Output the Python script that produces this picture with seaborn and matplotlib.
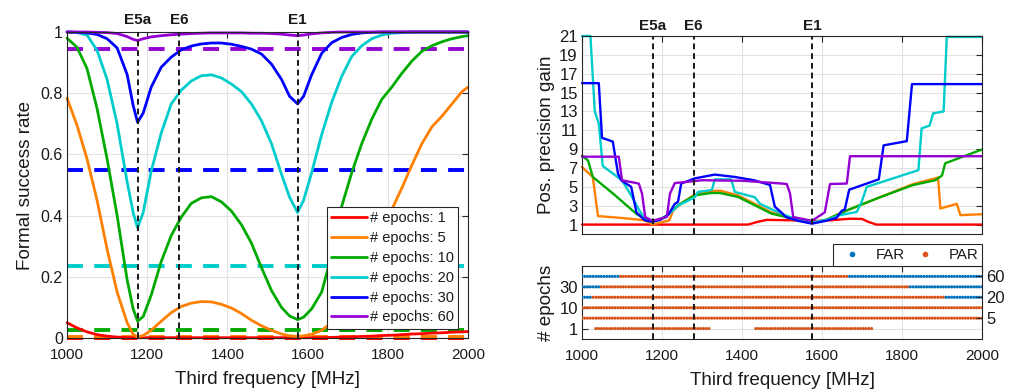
import numpy as np
import pandas as pd
import matplotlib
matplotlib.use("Agg")
import matplotlib.pyplot as plt
import seaborn as sns
from matplotlib.transforms import blended_transform_factory
from matplotlib.lines import Line2D

sns.set_theme(style="white")
plt.rcParams['font.family'] = ['Liberation Sans', 'DejaVu Sans']

# ---------------- data ----------------
epochs = [1, 5, 10, 20, 30, 60]
colors = ['#FF0000', '#FF8000', '#00AA00', '#00CCCC', '#0000FF', '#9400D3']

# left panel: formal success rate
freq = [1000, 1025, 1050, 1075, 1100, 1125, 1150, 1165, 1176, 1190, 1210, 1235, 1260, 1285,
        1310, 1335, 1360, 1385, 1410, 1435, 1460, 1485, 1510, 1535, 1555, 1575, 1590, 1610,
        1635, 1660, 1685, 1710, 1735, 1760, 1785, 1810, 1835, 1860, 1885, 1910, 1935, 1960,
        1985, 2000]
sr_1 = [0.050, 0.033, 0.020, 0.011, 0.006, 0.003, 0.0015, 0.001, 0.001, 0.001, 0.001,
        0.001, 0.001, 0.001, 0.001, 0.001, 0.001, 0.001, 0.001, 0.001, 0.001, 0.001, 0.001,
        0.001, 0.001, 0.001, 0.001, 0.001, 0.001, 0.002, 0.003, 0.004, 0.005, 0.006, 0.008,
        0.009, 0.011, 0.013, 0.014, 0.016, 0.017, 0.019, 0.020, 0.021]
sr_5 = [0.784, 0.695, 0.585, 0.45, 0.29, 0.15, 0.05, 0.012, 0.003, 0.008, 0.025, 0.055,
        0.083, 0.103, 0.114, 0.119, 0.118, 0.11, 0.098, 0.08, 0.058, 0.04, 0.025, 0.013,
        0.007, 0.005, 0.007, 0.012, 0.025, 0.05, 0.085, 0.13, 0.19, 0.26, 0.34, 0.42, 0.49,
        0.565, 0.635, 0.69, 0.725, 0.765, 0.805, 0.82]
sr_10 = [0.98, 0.95, 0.88, 0.75, 0.585, 0.40, 0.19, 0.095, 0.055, 0.07, 0.14, 0.25, 0.335,
         0.395, 0.44, 0.458, 0.462, 0.445, 0.415, 0.37, 0.31, 0.23, 0.155, 0.10, 0.072,
         0.06, 0.068, 0.095, 0.15, 0.27, 0.43, 0.54, 0.635, 0.715, 0.78, 0.82, 0.865,
         0.905, 0.937, 0.955, 0.968, 0.978, 0.985, 0.988]
sr_20 = [1.0, 0.998, 0.99, 0.94, 0.845, 0.70, 0.51, 0.41, 0.36, 0.41, 0.545, 0.67, 0.765,
         0.81, 0.84, 0.857, 0.86, 0.85, 0.83, 0.805, 0.765, 0.71, 0.635, 0.535, 0.46, 0.41,
         0.45, 0.54, 0.664, 0.77, 0.855, 0.92, 0.955, 0.978, 0.99, 0.996, 0.998, 1.0, 1.0,
         1.0, 1.0, 1.0, 1.0, 1.0]
sr_30 = [1.0, 0.999, 0.997, 0.992, 0.978, 0.948, 0.861, 0.76, 0.705, 0.735, 0.82, 0.885,
         0.918, 0.942, 0.954, 0.961, 0.964, 0.964, 0.96, 0.953, 0.944, 0.928, 0.895, 0.845,
         0.79, 0.765, 0.79, 0.86, 0.93, 0.965, 0.982, 0.992, 0.997, 0.999, 1.0, 1.0, 1.0,
         1.0, 1.0, 1.0, 1.0, 1.0, 1.0, 1.0]
sr_60 = [1.0, 1.0, 1.0, 0.999, 0.998, 0.995, 0.985, 0.976, 0.972, 0.978, 0.984, 0.988,
         0.991, 0.993, 0.995, 0.996, 0.997, 0.997, 0.997, 0.997, 0.996, 0.996, 0.995, 0.993,
         0.99, 0.988, 0.99, 0.994, 0.997, 0.999, 1.0, 1.0, 1.0, 1.0, 1.0, 1.0, 1.0, 1.0,
         1.0, 1.0, 1.0, 1.0, 1.0, 1.0]
sr_thresholds = [0.001, 0.002, 0.027, 0.234, 0.548, 0.945]

# right top panel: position precision gain
pg_1_f = [1000, 1415, 1440, 1462, 1530, 1575, 1620, 1670, 1700, 1715, 1736, 2000]
pg_1_v = [1.0, 1.0, 1.3, 1.5, 1.45, 1.35, 1.45, 1.62, 1.6, 1.3, 1.0, 1.0]
pg_5_f = [1000, 1027, 1040, 1100, 1157, 1176, 1218, 1228, 1250, 1282, 1320, 1345, 1390,
          1432, 1473, 1510, 1545, 1575, 1610, 1662, 1745, 1828, 1883, 1890, 1896, 1937,
          1946, 2000]
pg_5_v = [7.1, 6.05, 1.9, 1.7, 1.45, 1.0, 1.45, 2.5, 3.3, 4.2, 4.55, 4.6, 4.1, 3.2, 2.3,
          1.85, 1.4, 1.2, 1.5, 2.5, 3.9, 5.3, 5.9, 6.0, 2.7, 3.2, 2.0, 2.1]
pg_10_f = [1000, 1015, 1027, 1080, 1137, 1157, 1176, 1207, 1240, 1282, 1323, 1345, 1390,
           1432, 1473, 1510, 1545, 1575, 1610, 1662, 1745, 1828, 1883, 1900, 1908, 1996, 2000]
pg_10_v = [8.3, 7.8, 6.05, 4.2, 2.1, 1.64, 1.3, 1.8, 3.05, 4.1, 4.35, 4.35, 3.93, 3.05,
           2.17, 1.8, 1.4, 1.2, 1.5, 2.5, 3.9, 5.2, 5.7, 6.2, 7.5, 8.9, 8.95]
pg_20_f = [1000, 1021, 1032, 1042, 1052, 1100, 1120, 1142, 1157, 1176, 1195, 1220, 1240,
           1282, 1290, 1315, 1325, 1332, 1373, 1382, 1432, 1445, 1470, 1507, 1540, 1575,
           1611, 1645, 1687, 1699, 1712, 1841, 1849, 1869, 1878, 1904, 1912, 2000]
pg_20_v = [21, 21, 13, 11.7, 7.2, 5.7, 4.3, 2.6, 1.6, 1.3, 1.5, 2.2, 3.0, 3.9, 4.46, 4.6,
           4.7, 5.8, 5.8, 4.46, 3.9, 3.2, 2.7, 2.0, 1.5, 1.2, 1.5, 2.0, 2.34, 3.4, 5.0, 6.77,
           11.2, 11.5, 12.8, 13.0, 20.9, 20.9]
pg_30_f = [1000, 1042, 1050, 1077, 1090, 1098, 1123, 1136, 1157, 1176, 1195, 1215, 1232,
           1240, 1248, 1282, 1332, 1382, 1430, 1470, 1482, 1498, 1510, 1540, 1575, 1610,
           1636, 1649, 1657, 1668, 1675, 1742, 1754, 1812, 1825, 2000]
pg_30_v = [16.0, 16.0, 10.2, 9.8, 6.4, 5.7, 5.0, 2.3, 1.45, 1.3, 1.5, 2.0, 3.2, 3.4, 5.35,
           5.9, 6.3, 6.05, 5.7, 5.2, 2.9, 2.3, 1.8, 1.4, 1.1, 1.4, 1.7, 2.45, 2.6, 4.7, 4.8,
           5.8, 9.4, 9.85, 15.9, 15.9]
pg_60_f = [1000, 1092, 1100, 1142, 1150, 1158, 1176, 1212, 1220, 1232, 1300, 1400, 1500,
           1512, 1520, 1528, 1575, 1607, 1620, 1662, 1670, 2000]
pg_60_v = [8.2, 8.2, 5.7, 5.35, 4.3, 1.8, 1.4, 1.8, 4.3, 5.4, 5.7, 5.65, 5.35, 5.3, 4.3,
           1.8, 1.4, 2.3, 5.3, 5.35, 8.25, 8.25]

# right bottom panel: FAR / PAR per row (segments in MHz)
row_epochs = [1, 5, 10, 20, 30, 60]
row_segments = {
    1: [("PAR", 1028, 1322), ("PAR", 1428, 1725)],
    5: [("PAR", 1000, 2000)],
    10: [("PAR", 1000, 2000)],
    20: [("FAR", 1000, 1022), ("PAR", 1022, 1906), ("FAR", 1906, 2000)],
    30: [("FAR", 1000, 1042), ("PAR", 1042, 1814), ("FAR", 1814, 2000)],
    60: [("FAR", 1000, 1092), ("PAR", 1092, 1665), ("FAR", 1665, 2000)],
}
dot_freqs = np.linspace(1000, 2000, 146)

signals = ["E5a", "E6", "E1"]
signal_freqs = [1176.45, 1278.75, 1575.42]

# ---------------- figure ----------------
W, H = 1016, 391
fig = plt.figure(figsize=(W / 100, H / 100), dpi=100)
ax1 = fig.add_axes([67 / W, 53 / H, 401 / W, 306 / H])
ax2 = fig.add_axes([582 / W, 157 / H, 400 / W, 198 / H])
ax3 = fig.add_axes([582 / W, 52 / H, 400 / W, 73 / H])

AXC = '#262626'
TXT = '#1a1a1a'
TICK_FS = 11
LABEL_FS = 13.6


def style(ax, ysize=TICK_FS):
    for s in ax.spines.values():
        s.set_color(AXC)
        s.set_linewidth(0.8)
    ax.tick_params(direction='in', length=4, width=0.8, top=True, right=True,
                   colors=AXC, labelcolor=TXT, labelsize=TICK_FS)
    ax.tick_params(axis='x', pad=7)
    ax.tick_params(axis='y', pad=3, labelsize=ysize)
    ax.grid(True, color='#e2e2e2', lw=0.8)
    ax.set_axisbelow(True)


def vlines(ax, labels=True):
    tr = blended_transform_factory(ax.transData, ax.transAxes)
    for name, f in zip(signals, signal_freqs):
        ax.axvline(f, color='k', lw=1.4, ls=(0, (3, 2)), zorder=5)
        if labels:
            ax.text(f, 1.015, name, transform=tr, ha='center', va='bottom',
                    fontsize=11, fontweight='bold', color='k')


# ---- left panel ----
sr_series = [sr_1, sr_5, sr_10, sr_20, sr_30, sr_60]
for thr, c in zip(sr_thresholds, colors):
    sns.lineplot(x=[1000, 2000], y=[thr, thr], ax=ax1, color=c, lw=2.8,
                 linestyle=(0, (4.1, 2.9)), legend=False, clip_on=False)
handles = []
for n, vals, c in zip(epochs, sr_series, colors):
    sns.lineplot(x=freq, y=vals, ax=ax1, color=c, lw=2.0, legend=False, clip_on=False)
    handles.append(Line2D([], [], color=c, lw=2.0))
vlines(ax1)
ax1.set_xlim(1000, 2000)
ax1.set_ylim(0, 1)
ax1.set_xticks([1000, 1200, 1400, 1600, 1800, 2000])
ax1.set_yticks([0, 0.2, 0.4, 0.6, 0.8, 1])
ax1.set_yticklabels(['0', '0.2', '0.4', '0.6', '0.8', '1'])
style(ax1, ysize=11.5)
ax1.set_xlabel("Third frequency [MHz]", fontsize=LABEL_FS, color=TXT, labelpad=7)
ax1.set_ylabel("Formal success rate", fontsize=LABEL_FS, color=TXT, labelpad=5)
leg = ax1.legend(handles, [f"# epochs: {n}" for n in epochs], loc='lower right',
                 bbox_to_anchor=(0.975, 0.03), borderaxespad=0, fontsize=10.5,
                 frameon=True, fancybox=False, framealpha=1, edgecolor=AXC,
                 handlelength=2.5, handletextpad=0.15, labelspacing=0.4,
                 borderpad=0.3)
leg.get_frame().set_linewidth(0.8)
for t in leg.get_texts():
    t.set_color(TXT)

# ---- right top panel ----
pg_f = [pg_1_f, pg_5_f, pg_10_f, pg_20_f, pg_30_f, pg_60_f]
pg_v = [pg_1_v, pg_5_v, pg_10_v, pg_20_v, pg_30_v, pg_60_v]
for f, v, c in zip(pg_f, pg_v, colors):
    sns.lineplot(x=f, y=v, ax=ax2, color=c, lw=1.7, sort=False, estimator=None,
                 legend=False, clip_on=False)
vlines(ax2)
ax2.set_xlim(1000, 2000)
ax2.set_ylim(0, 21)
ax2.set_xticks([1000, 1200, 1400, 1600, 1800, 2000])
ax2.set_xticklabels([])
ax2.set_yticks(list(range(1, 22, 2)))
style(ax2, ysize=12)
ax2.set_ylabel("Pos. precision gain", fontsize=LABEL_FS, color=TXT, labelpad=3)

# ---- right bottom panel ----
recs = []
for i, n in enumerate(row_epochs):
    for fq in dot_freqs:
        for kind, a, b in row_segments[n]:
            if a <= fq <= b:
                recs.append({"freq": fq, "row": i + 1, "type": kind})
                break
dots = pd.DataFrame(recs)
sns.scatterplot(data=dots, x="freq", y="row", hue="type", hue_order=["FAR", "PAR"],
                palette={"FAR": "#0072BD", "PAR": "#D95319"}, s=5, linewidth=0,
                ax=ax3, legend=False, zorder=3)
vlines(ax3, labels=False)
ax3.set_xlim(1000, 2000)
ax3.set_ylim(0, 7)
ax3.set_xticks([1000, 1200, 1400, 1600, 1800, 2000])
ax3.set_yticks([1, 3, 5])
ax3.set_yticklabels(['1', '10', '30'])
style(ax3, ysize=12)
ax3.tick_params(right=False)
ax3.set_xlabel("Third frequency [MHz]", fontsize=LABEL_FS, color=TXT, labelpad=7)
ax3.set_ylabel("# epochs", fontsize=LABEL_FS, color=TXT, labelpad=3)
ax3r = ax3.twinx()
ax3r.set_ylim(0, 7)
ax3r.set_yticks([2, 4, 6])
ax3r.set_yticklabels(['5', '20', '60'])
ax3r.tick_params(direction='in', length=4, width=0.8, colors=AXC, labelcolor=TXT,
                 labelsize=12, pad=3)
ax3r.grid(False)
for s in ax3r.spines.values():
    s.set_visible(False)

leg2_h = [Line2D([], [], ls='none', marker='o', ms=3, color='#0072BD'),
          Line2D([], [], ls='none', marker='o', ms=3, color='#D95319')]
leg2 = fig.legend(leg2_h, ["FAR", "PAR"], ncol=2, loc='upper right',
                  bbox_to_anchor=(982 / W, 1 - 244 / H), fontsize=10.8,
                  frameon=True, fancybox=False, framealpha=1, edgecolor=AXC,
                  handlelength=2.0, handletextpad=0.6, columnspacing=0.3,
                  borderpad=0.25, borderaxespad=0)
leg2.get_frame().set_linewidth(0.8)
for t in leg2.get_texts():
    t.set_color(TXT)

fig.savefig("out.png", dpi=100, facecolor='white')
